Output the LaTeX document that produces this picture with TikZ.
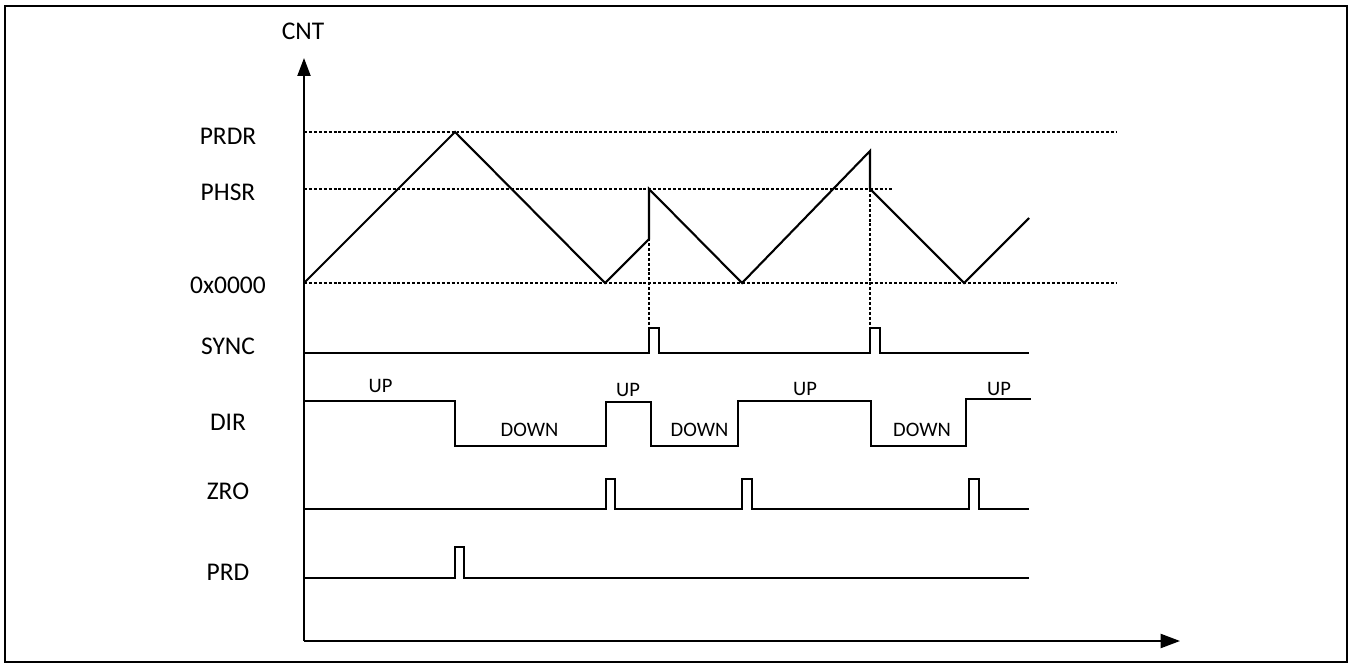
\documentclass[tikz,border=0pt]{standalone}
\usepackage{fontspec}
\setmainfont{Carlito}
\usetikzlibrary{arrows.meta}
\begin{document}
\begin{tikzpicture}[x=0.02cm,y=-0.02cm,
  wave/.style={line width=1.2pt, line join=miter},
  guide/.style={line width=0.75pt, dash pattern=on 1.7pt off 1.1pt},
  axis/.style={line width=1.1pt},
  frame/.style={line width=1.3pt},
  siglabel/.style={font=\fontsize{14.5}{17}\selectfont, inner sep=0pt},
  dirlabel/.style={font=\fontsize{11.7}{14}\selectfont, inner sep=0pt}]
\useasboundingbox (0,0) rectangle (1354,668);
\draw[frame] (5,6) rectangle (1347,662);

% axes
\coordinate (O) at (304,641);
\coordinate (Ytip) at (304,58);
\coordinate (Xtip) at (1180,641);
\draw[axis,-{Triangle[length=10.2pt,width=7.4pt]}] (O) -- (Ytip);
\draw[axis,-{Triangle[length=11pt,width=8pt]}] (O) -- (Xtip);

% labels
\node[siglabel] (cnt) at (303,31.5) {CNT};
\node[siglabel] (prdr) at (228,136) {PRDR};
\node[siglabel] (phsr) at (228,192) {PHSR};
\node[siglabel] (zero) at (228,285) {0x0000};
\node[siglabel] (sync) at (228,346) {SYNC};
\node[siglabel] (dir) at (228,422) {DIR};
\node[siglabel] (zro) at (228,491) {ZRO};
\node[siglabel] (prd) at (228,572) {PRD};

% guide lines
\draw[guide] (304,132) -- (1116,132);
\draw[guide] (304,189) -- (892,189);
\draw[guide] (304,283) -- (1116,283);
\draw[guide] (649,238) -- (649,328);
\draw[guide] (870,189) -- (870,328);

% counter waveform
\draw[wave] (304,283) -- (455,132) -- (605,283) -- (649,239) -- (649,189)
  -- (742,283) -- (870,151) -- (870,189) -- (964,283) -- (1029,218);

% SYNC
\draw[wave] (304,353) -- (649,353) -- (649,328) -- (659,328) -- (659,353)
  -- (870,353) -- (870,328) -- (880,328) -- (880,353) -- (1029,353);

% DIR
\draw[wave] (304,401) -- (455,401) -- (455,446) -- (606,446) -- (606,402)
  -- (651,402) -- (651,446) -- (738,446) -- (738,401) -- (871,401)
  -- (871,446) -- (966,446) -- (966,399) -- (1031,399);
\node[dirlabel] (up1) at (380.5,386) {UP};
\node[dirlabel] (down1) at (529.5,429.5) {DOWN};
\node[dirlabel] (up2) at (628,389.5) {UP};
\node[dirlabel] (down2) at (699.5,429.5) {DOWN};
\node[dirlabel] (up3) at (805,389) {UP};
\node[dirlabel] (down3) at (922,429.5) {DOWN};
\node[dirlabel] (up4) at (999,389) {UP};

% ZRO
\draw[wave] (304,509) -- (606,509) -- (606,479) -- (615,479) -- (615,509)
  -- (742,509) -- (742,479) -- (752,479) -- (752,509) -- (969,509)
  -- (969,479) -- (979,479) -- (979,509) -- (1029,509);

% PRD
\draw[wave] (304,578) -- (455,578) -- (455,547) -- (464,547) -- (464,578)
  -- (1029,578);
\end{tikzpicture}
\end{document}
